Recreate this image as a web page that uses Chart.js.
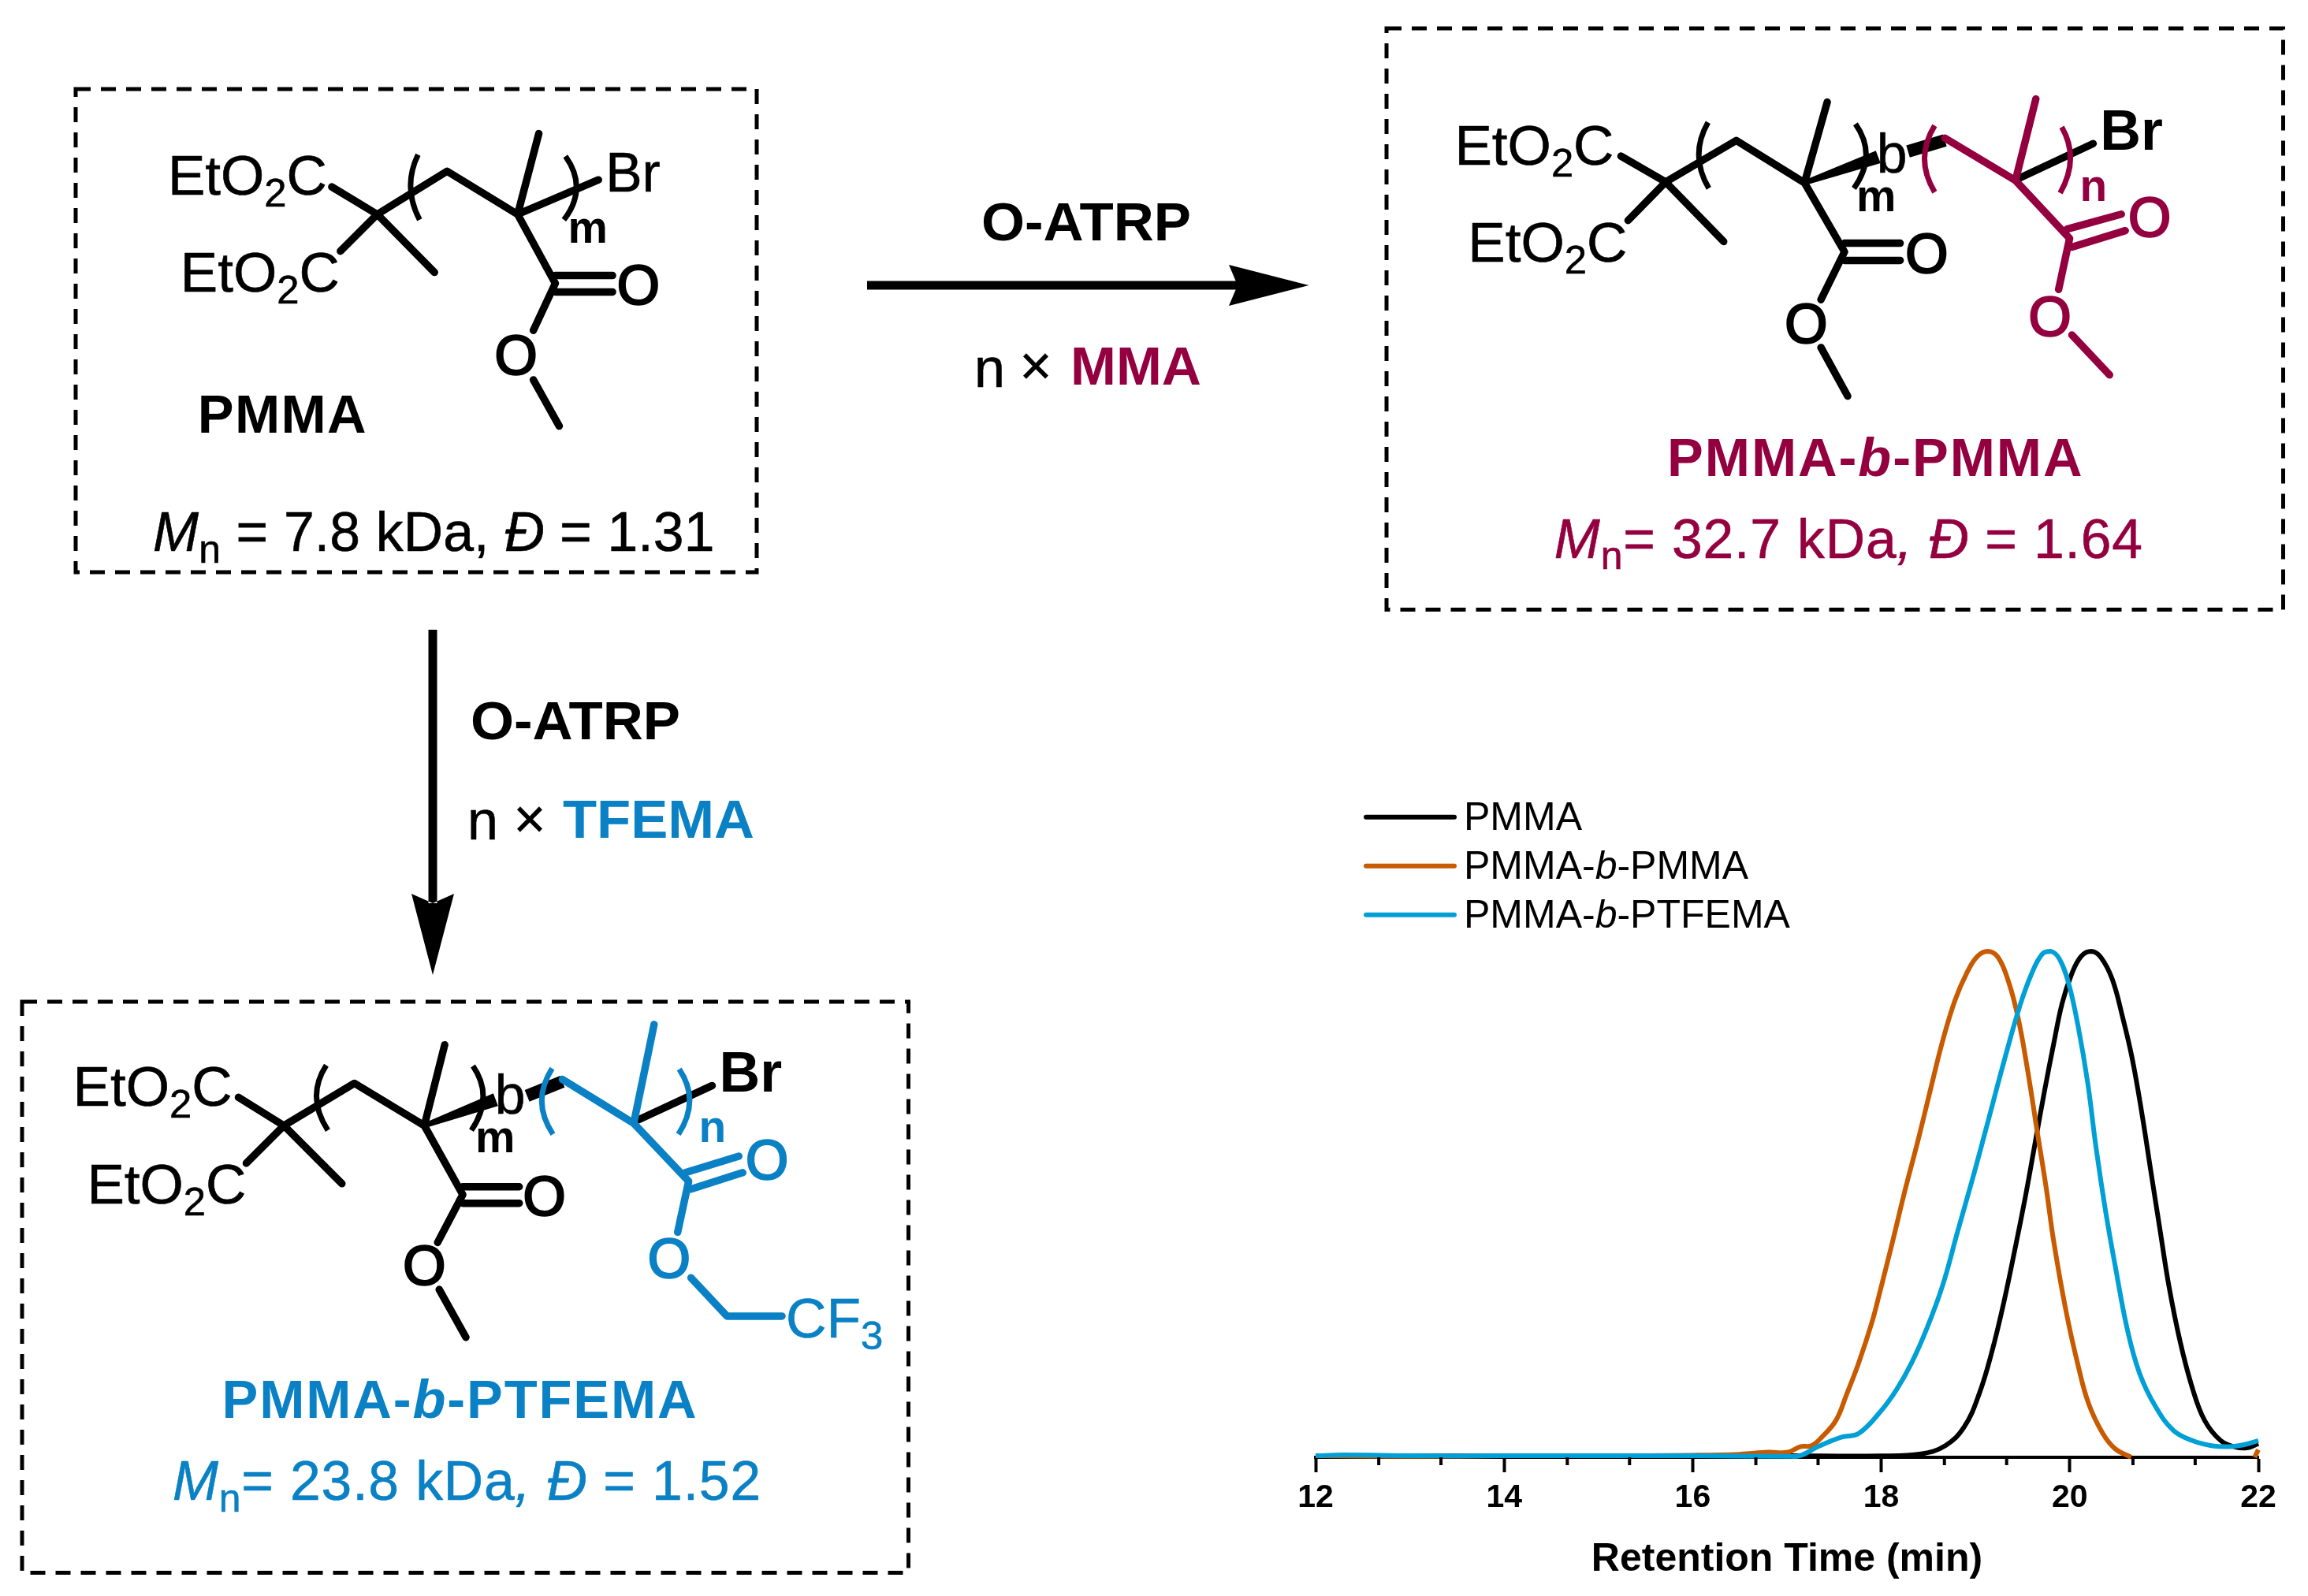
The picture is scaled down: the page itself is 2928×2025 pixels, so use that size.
<!DOCTYPE html>
<html>
<head>
<meta charset="utf-8">
<title>PMMA block copolymers</title>
<script src="https://cdn.jsdelivr.net/npm/chart.js@4/dist/chart.umd.js"></script>
<style>
  html, body { margin: 0; padding: 0; background: #fff; }
  #page { position: relative; width: 2928px; height: 2025px; overflow: hidden; }
  #scheme, #gpc { position: absolute; left: 0; top: 0; }
  svg { color: #000; }
  svg text { font-family: "Liberation Sans", Arial, sans-serif; fill: currentColor; stroke: currentColor; stroke-width: 0.6; }
  .mma { color: #94003f; }
  .tfe { color: #0a81c4; }
  .box { fill: none; stroke: #000; stroke-width: 5; stroke-dasharray: 19 13; }
  .bond { fill: none; stroke: currentColor; stroke-width: 9.5; stroke-linecap: round; stroke-linejoin: round; }
  .paren { fill: none; stroke: currentColor; stroke-width: 7; }
  .atom { font-size: 70px; }
  svg text.hetero { font-size: 70px; stroke-width: 2.5; }
  svg text.bold, .label, .rep { font-weight: bold; stroke-width: 0; }
  svg text.bold { font-size: 72px; }
  .label { font-size: 69px; }
  .stats { font-size: 70px; }
  .rep { font-size: 57px; }
  .it { font-style: italic; }
</style>
</head>
<body>
<div id="page">
<svg id="scheme" width="2928" height="2025" viewBox="0 0 2928 2025">
  <rect class="box" x="96" y="113" width="864" height="613"/>
  <rect class="box" x="1759" y="36" width="1137.5" height="737.5"/>
  <rect class="box" x="28" y="1271" width="1124.5" height="724.5"/>

  <!-- PMMA macroinitiator -->
  <g transform="translate(0 60) scale(.995) translate(0 -60)">
    <path class="bond" d="M423 238 L481 273 M434 320 L481 273 L554 347 M481 273 L570 218 L660 273 L687 170 M660 273 L763 229 M660 273 L708 361 L680 421 M680 484 L713 543"/>
    <path class="bond" d="M708 351 H781 M708 372 H781"/>
    <path class="paren" stroke="#000" d="M533 197 Q513 238 535 280 M721 199 Q750 240 719 280"/>
    <text class="atom" x="214" y="248" textLength="203" lengthAdjust="spacingAndGlyphs">EtO<tspan font-size="50" dy="15">2</tspan><tspan dy="-15">C</tspan></text>
    <text class="atom" x="230" y="372" textLength="203" lengthAdjust="spacingAndGlyphs">EtO<tspan font-size="50" dy="15">2</tspan><tspan dy="-15">C</tspan></text>
    <text class="atom" x="772" y="244">Br</text>
    <text class="rep" x="724" y="309">m</text>
    <text class="hetero" x="814" y="388" text-anchor="middle">O</text>
    <text class="hetero" x="658" y="477" text-anchor="middle">O</text>
    <text class="label" x="252" y="551" textLength="215">PMMA</text>
    <text class="stats" x="195" y="702" textLength="716"><tspan class="it">M</tspan><tspan font-size="50" dy="15">n</tspan><tspan dy="-15"> = 7.8 kDa, </tspan><tspan class="it">Đ</tspan> = 1.31</text>
  </g>

  <!-- arrow to PMMA-b-PMMA -->
  <path d="M1100 356.5 H1570 V367.5 H1100 Z M1559 336 L1660.5 362 L1559 388 L1570 362 Z" fill="#000"/>
  <text class="label" x="1245" y="305" font-size="68" textLength="266" lengthAdjust="spacingAndGlyphs">O-ATRP</text>
  <text class="stats" x="1236" y="491" font-size="68">n</text>
  <text class="stats" x="1314" y="488" text-anchor="middle" font-size="68">×</text>
  <text class="label mma" x="1358" y="488" textLength="166" lengthAdjust="spacingAndGlyphs">MMA</text>

  <!-- PMMA-b-PMMA -->
  <g transform="translate(1740 20) scale(.995) translate(-1740 -20)">
    <path class="bond" d="M2058 199 L2115 232 M2067 281 L2115 232 L2189 308 M2115 232 L2205 179 L2292 233 L2321 130 M2292 233 L2343 321 L2313 382 M2313 443 L2347 505"/>
    <path class="bond" d="M2343 310 H2414 M2343 332 H2414 M2566 227 L2660 183"/>
    <polygon fill="#000" points="2291,230 2383,192 2389,208 2293,236"/>
    <path stroke="#000" stroke-width="16" d="M2424 193 L2471 179"/>
    <path class="paren" d="M2169 156 Q2145 198 2170 240 M2357 158 Q2385 198 2355 240"/>
    <g class="mma">
      <path class="bond" d="M2471 176 L2561 230 L2587 126 M2561 230 L2630 304 L2616 369 M2633 427 L2681 478 M2627 292 L2696 273 M2633 315 L2701 294"/>
      <path class="paren" d="M2458 160 Q2432 202 2458 245 M2620 162 Q2643 202 2618 246"/>
      <text class="rep" x="2643" y="256">n</text>
      <text class="hetero" x="2732" y="301" text-anchor="middle">O</text>
      <text class="hetero" x="2605" y="428" text-anchor="middle">O</text>
      <text class="label" x="2117" y="607" textLength="529">PMMA-<tspan class="it">b</tspan>-PMMA</text>
      <text class="stats" x="1973" y="711" textLength="750"><tspan class="it">M</tspan><tspan font-size="50" dy="15">n</tspan><tspan dy="-15">= 32.7 kDa</tspan><tspan class="it">, Đ</tspan> = 1.64</text>
    </g>
    <text class="atom" x="1846" y="210" textLength="203" lengthAdjust="spacingAndGlyphs">EtO<tspan font-size="50" dy="15">2</tspan><tspan dy="-15">C</tspan></text>
    <text class="atom" x="1863" y="334" textLength="203" lengthAdjust="spacingAndGlyphs">EtO<tspan font-size="50" dy="15">2</tspan><tspan dy="-15">C</tspan></text>
    <text class="atom" x="2384" y="220">b</text>
    <text class="rep" x="2358" y="269">m</text>
    <text class="hetero" x="2448" y="348" text-anchor="middle">O</text>
    <text class="hetero" x="2294" y="437" text-anchor="middle">O</text>
    <text class="atom bold" x="2669" y="191">Br</text>
  </g>

  <!-- arrow to PMMA-b-PTFEMA -->
  <path d="M543.5 799 H554.5 V1146 H543.5 Z M522 1134 L549 1237 L576 1134 L549 1146 Z" fill="#000"/>
  <text class="label" x="597" y="938" font-size="68" textLength="266" lengthAdjust="spacingAndGlyphs">O-ATRP</text>
  <text class="stats" x="593" y="1065" font-size="68">n</text>
  <text class="stats" x="672" y="1063" text-anchor="middle" font-size="68">×</text>
  <text class="label tfe" x="714" y="1063" textLength="243" lengthAdjust="spacingAndGlyphs">TFEMA</text>

  <!-- PMMA-b-PTFEMA -->
  <g transform="translate(0 1260) scale(.995) translate(0 -1260)">
    <path class="bond" d="M304 1393 L362 1429 M314 1477 L362 1429 L436 1503 M362 1429 L452 1375 L541 1429 L567 1326 M541 1429 L590 1517 L558 1578 M560 1638 L594 1699"/>
    <path class="bond" d="M590 1507 H662 M590 1528 H662 M813 1422 L908 1378"/>
    <polygon fill="#000" points="540,1426 629,1388 635,1404 542,1432"/>
    <path stroke="#000" stroke-width="16" d="M672 1391 L717 1373"/>
    <path class="paren" d="M416 1352 Q390 1392 418 1435 M603 1353 Q630 1392 601 1435"/>
    <g class="tfe">
      <path class="bond" d="M717 1370 L808 1426 L834 1300 M808 1426 L878 1500 L864 1565 M881 1623 L927 1672 H997 M874 1489 L942 1468 M881 1510 L947 1489"/>
      <path class="paren" d="M704 1356 Q677 1398 705 1440 M866 1357 Q893 1397 865 1440"/>
      <text class="rep" x="891" y="1450">n</text>
      <text class="hetero" x="978" y="1497" text-anchor="middle">O</text>
      <text class="hetero" x="853" y="1623" text-anchor="middle">O</text>
      <text class="atom" x="1002" y="1699" textLength="124" lengthAdjust="spacingAndGlyphs">CF<tspan font-size="50" dy="15">3</tspan></text>
      <text class="label" x="283" y="1802" textLength="605">PMMA-<tspan class="it">b</tspan>-PTFEMA</text>
      <text class="stats" x="220" y="1906" textLength="750"><tspan class="it">M</tspan><tspan font-size="50" dy="15">n</tspan><tspan dy="-15">= 23.8 kDa</tspan><tspan class="it">, Đ</tspan> = 1.52</text>
    </g>
    <text class="atom" x="93" y="1404" textLength="203" lengthAdjust="spacingAndGlyphs">EtO<tspan font-size="50" dy="15">2</tspan><tspan dy="-15">C</tspan></text>
    <text class="atom" x="111" y="1528" textLength="203" lengthAdjust="spacingAndGlyphs">EtO<tspan font-size="50" dy="15">2</tspan><tspan dy="-15">C</tspan></text>
    <text class="atom" x="631" y="1414">b</text>
    <text class="rep" x="606" y="1463">m</text>
    <text class="hetero" x="694" y="1543" text-anchor="middle">O</text>
    <text class="hetero" x="541" y="1632" text-anchor="middle">O</text>
    <text class="atom bold" x="917" y="1386">Br</text>
  </g>
</svg>
<canvas id="gpc" width="2928" height="2025"></canvas>
</div>

<script>
// GPC traces. Intensity is normalised so each peak is 100.
const seriesNames = ["PMMA", "PMMA-b-PMMA", "PMMA-b-PTFEMA"];
const seriesColors = ["#000000", "#c85a00", "#00a0d6"];

const pmmaTimes = [12, 14, 16, 17, 17.99, 18.42, 18.68, 18.88, 19.04, 19.17, 19.3, 19.43, 19.53, 19.63, 19.73, 19.83, 19.92, 20.02, 20.12, 20.23, 20.33, 20.45, 20.56, 20.66, 20.76, 20.86, 20.96, 21.05, 21.17, 21.3, 21.43, 21.6, 21.76, 21.89, 22];
const pmmaValues = [0.3, 0.3, 0.3, 0.3, 0.27, 0.67, 2.3, 6, 12.6, 20.6, 30.6, 42.2, 51.6, 61.9, 72.2, 81.8, 89.8, 95.5, 99, 100, 98.8, 94.5, 87, 79, 68.5, 56.5, 44.6, 34, 22.9, 13.7, 7.3, 3.3, 2, 1.9, 2.7];

const blockMmaTimes = [12, 13, 14, 15, 16, 16.5, 16.8, 17.01, 17.14, 17.26, 17.37, 17.52, 17.63, 17.76, 17.9, 17.99, 18.12, 18.25, 18.39, 18.52, 18.65, 18.78, 18.91, 19.02, 19.13, 19.24, 19.35, 19.45, 19.55, 19.65, 19.75, 19.83, 19.96, 20.09, 20.2, 20.35, 20.48, 20.65, 20.66, 21.96, 22];
const blockMmaValues = [0.3, 0.2, 0.3, 0.3, 0.4, 0.6, 1, 1, 2.1, 2.3, 4, 7.3, 12.3, 18.6, 26.6, 33, 42.6, 52.6, 62.6, 72.5, 82.2, 90.2, 95.8, 99, 100, 98.8, 94, 87, 76.8, 64.9, 53.2, 42.6, 28.9, 18, 10.6, 4.7, 1.7, 0, null, 0, 1.5];

const blockTfemaTimes = [12, 12.3, 13, 14, 15, 16, 17.01, 17.14, 17.34, 17.58, 17.76, 17.99, 18.16, 18.32, 18.48, 18.65, 18.81, 18.98, 19.14, 19.3, 19.47, 19.6, 19.71, 19.8, 19.89, 19.99, 20.09, 20.19, 20.28, 20.38, 20.48, 20.61, 20.74, 20.91, 21.1, 21.3, 21.5, 21.69, 21.85, 22];
const blockTfemaValues = [0.3, 0.45, 0.3, 0.3, 0.3, 0.3, 0.2, 0.33, 2.2, 4, 4.7, 9, 13.3, 18.6, 25.3, 33.9, 44.6, 55.8, 66.9, 78.1, 89.2, 95.8, 99.5, 100, 98.5, 93.5, 85, 74, 61, 48.6, 38, 25.3, 16.6, 10, 5.3, 3.3, 2.3, 2.1, 2.5, 3.3];

const xMajorTicks = [12, 14, 16, 18, 20, 22];
const xMinorTicks = [12.67, 13.33, 14.67, 15.33, 16.67, 17.33, 18.67, 19.33, 20.67, 21.33];
const xTitle = "Retention Time (min)";

const FONT = '"Liberation Sans", Arial, sans-serif';

function toPoints(times, values) {
  return times.map((t, i) => ({ x: t, y: values[i] }));
}

function trace(idx, times, values) {
  return {
    label: seriesNames[idx],
    data: toPoints(times, values),
    borderColor: seriesColors[idx],
    borderWidth: 6,
    pointRadius: 0,
    tension: 0.4,
    spanGaps: false,
    clip: false,
    order: 3 - idx, // blue ends up on top, black at the bottom
  };
}

// minor ticks are shorter than major ones, Chart.js only has one tickLength
const minorTicksPlugin = {
  id: "minorTicks",
  afterDraw(chart) {
    const { ctx } = chart;
    const xScale = chart.scales.x;
    ctx.save();
    ctx.strokeStyle = "#000";
    ctx.lineWidth = 4;
    xMinorTicks.forEach((v) => {
      const px = xScale.getPixelForValue(v);
      ctx.beginPath();
      ctx.moveTo(px, xScale.top);
      ctx.lineTo(px, xScale.top + 10);
      ctx.stroke();
    });
    ctx.restore();
  },
};

// legend by hand: the built-in one cannot set the b in italics
const blockLegendPlugin = {
  id: "blockLegend",
  afterDraw(chart) {
    const { ctx } = chart;
    ctx.save();
    ctx.textBaseline = "alphabetic";
    chart.data.datasets.forEach((ds, i) => {
      const lineY = 1036.7 + i * 62;
      ctx.strokeStyle = ds.borderColor;
      ctx.lineWidth = 6;
      ctx.lineCap = "round";
      ctx.beginPath();
      ctx.moveTo(1733, lineY);
      ctx.lineTo(1845, lineY);
      ctx.stroke();

      let x = 1857;
      ctx.fillStyle = "#000";
      ds.label.split(/(?<=-)(b)(?=-)/).forEach((part) => {
        ctx.font = (part === "b" ? "italic " : "") + "50px " + FONT;
        ctx.fillText(part, x, lineY + 16);
        x += ctx.measureText(part).width;
      });
    });
    ctx.restore();
  },
};

new Chart(document.getElementById("gpc"), {
  type: "line",
  data: {
    datasets: [
      trace(0, pmmaTimes, pmmaValues),
      trace(1, blockMmaTimes, blockMmaValues),
      trace(2, blockTfemaTimes, blockTfemaValues),
    ],
  },
  plugins: [minorTicksPlugin, blockLegendPlugin],
  options: {
    responsive: false,
    devicePixelRatio: 1,
    animation: false,
    layout: { padding: { left: 1669, right: 63, top: 1207, bottom: 0 } },
    plugins: { legend: { display: false }, tooltip: { enabled: false } },
    scales: {
      x: {
        type: "linear",
        min: 12,
        max: 22,
        afterBuildTicks: (scale) => {
          scale.ticks = xMajorTicks.map((v) => ({ value: v }));
        },
        afterFit: (scale) => {
          scale.height = 176;
        },
        border: { color: "#000", width: 4 },
        grid: { drawOnChartArea: false, tickLength: 19, tickWidth: 4, tickColor: "#000" },
        ticks: {
          color: "#000",
          padding: 8,
          maxRotation: 0,
          autoSkip: false,
          font: { family: FONT, size: 41, weight: "bold" },
        },
        title: {
          display: true,
          text: xTitle,
          color: "#000",
          padding: { top: 0, bottom: 16 },
          font: { family: FONT, size: 50, weight: "bold" },
        },
      },
      y: { display: false, min: 0, max: 100 },
    },
  },
});
</script>
</body>
</html>
